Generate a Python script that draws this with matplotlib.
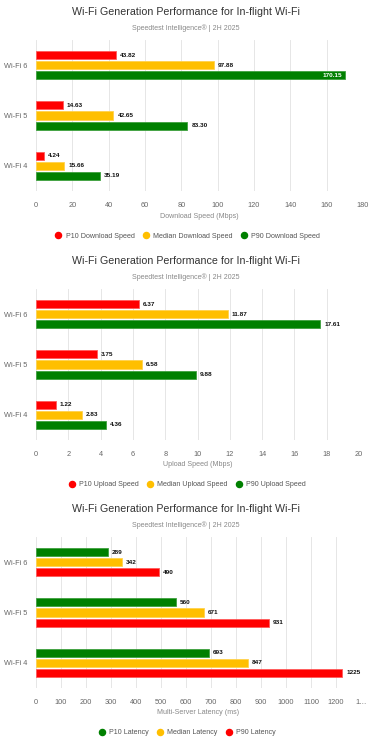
import numpy as np
import matplotlib
matplotlib.use("Agg")
import matplotlib.pyplot as plt
from matplotlib.lines import Line2D

plt.rcParams['font.family'] = ['Liberation Sans', 'DejaVu Sans']

categories = ["Wi-Fi 6", "Wi-Fi 5", "Wi-Fi 4"]

dl_p10 = [43.82, 14.63, 4.24]
dl_med = [97.88, 42.65, 15.66]
dl_p90 = [170.15, 83.30, 35.19]

ul_p10 = [6.37, 3.75, 1.22]
ul_med = [11.87, 6.58, 2.83]
ul_p90 = [17.61, 9.88, 4.36]

lat_p10 = [289, 560, 693]
lat_med = [342, 671, 847]
lat_p90 = [490, 931, 1225]

dl_ticks = [0, 20, 40, 60, 80, 100, 120, 140, 160, 180]
ul_ticks = [0, 2, 4, 6, 8, 10, 12, 14, 16, 18, 20]
lat_ticks = [0, 100, 200, 300, 400, 500, 600, 700, 800, 900, 1000, 1100, 1200, 1300]
lat_tick_labels = ["0", "100", "200", "300", "400", "500", "600", "700", "800",
                   "900", "1000", "1100", "1200", "1…"]

RED = "#ff0000"
YEL = "#ffbf00"
GRN = "#008000"
EDGE = {RED: "#ff5a5a", YEL: "#ffd24d", GRN: "#3fa03f"}

W, H = 371, 750
fig = plt.figure(figsize=(W / 100, H / 100), dpi=100)


def fy(y):
    return 1 - y / H


def panel(top, right, series, names, colors, ticks, ticklabels, xlabel, fmt):
    fig.text(0.5, fy(top + 12), "Wi-Fi Generation Performance for In-flight Wi-Fi",
             ha="center", va="center", fontsize=7.65, color="#333333")
    fig.text(0.5, fy(top + 28), "Speedtest Intelligence® | 2H 2025",
             ha="center", va="center", fontsize=5.0, color="#888888")

    ax_top, ax_bot = top + 40, top + 191
    width_px = right - 36
    ax = fig.add_axes([36 / W, fy(ax_bot), width_px / W, (ax_bot - ax_top) / H])
    y = np.arange(len(categories))
    offs = [-0.2, 0.0, 0.2]
    xmax = ticks[-1]
    for vals, off, c in zip(series, offs, colors):
        ax.barh(y + off, vals, height=0.16, color=c, edgecolor=EDGE[c], linewidth=0.6, zorder=3)
        for yi, v in zip(y, vals):
            label = fmt(v)
            room = (xmax - v) / xmax * width_px
            if room < len(label) * 3.2 + 4:
                ax.text(v - xmax * 0.008, yi + off, label, ha="right", va="center",
                        fontsize=4.6, fontweight="bold", color="white", zorder=4)
            else:
                ax.text(v + xmax * 0.012, yi + off, label, ha="left", va="center",
                        fontsize=4.6, fontweight="bold", color="#111111", zorder=4)
    ax.set_ylim(2.5, -0.5)
    ax.set_xlim(0, xmax)
    ax.set_yticks(y)
    ax.set_yticklabels(categories, fontsize=5.3, color="#666666")
    ax.set_xticks(ticks)
    ax.set_xticklabels(ticklabels, fontsize=5.3, color="#666666")
    ax.tick_params(axis="both", length=0, pad=6)
    ax.tick_params(axis="x", pad=8)
    ax.grid(axis="x", color="#e6e6e6", linewidth=0.7, zorder=0)
    ax.set_axisbelow(True)
    for s in ax.spines.values():
        s.set_visible(False)
    fig.text((36 + right) / 2 / W, fy(top + 216), xlabel, ha="center", va="center",
             fontsize=5.1, color="#888888")

    handles = [Line2D([], [], marker="o", linestyle="", markersize=4.4,
                      markerfacecolor=c, markeredgecolor=c) for c in colors]
    fig.legend(handles, names, loc="center", bbox_to_anchor=(0.5, fy(top + 236)),
               ncol=3, frameon=False, fontsize=5.1, handletextpad=0.0,
               columnspacing=0.6, labelcolor="#555555")


panel(0, 363, [dl_p10, dl_med, dl_p90],
      ["P10 Download Speed", "Median Download Speed", "P90 Download Speed"],
      [RED, YEL, GRN], dl_ticks, [str(t) for t in dl_ticks],
      "Download Speed (Mbps)", lambda v: f"{v:.2f}")

panel(249, 359, [ul_p10, ul_med, ul_p90],
      ["P10 Upload Speed", "Median Upload Speed", "P90 Upload Speed"],
      [RED, YEL, GRN], ul_ticks, [str(t) for t in ul_ticks],
      "Upload Speed (Mbps)", lambda v: f"{v:.2f}")

panel(497, 361, [lat_p10, lat_med, lat_p90],
      ["P10 Latency", "Median Latency", "P90 Latency"],
      [GRN, YEL, RED], lat_ticks, lat_tick_labels,
      "Multi-Server Latency (ms)", lambda v: f"{v:d}")

fig.savefig("out.png", dpi=100, facecolor="white")
